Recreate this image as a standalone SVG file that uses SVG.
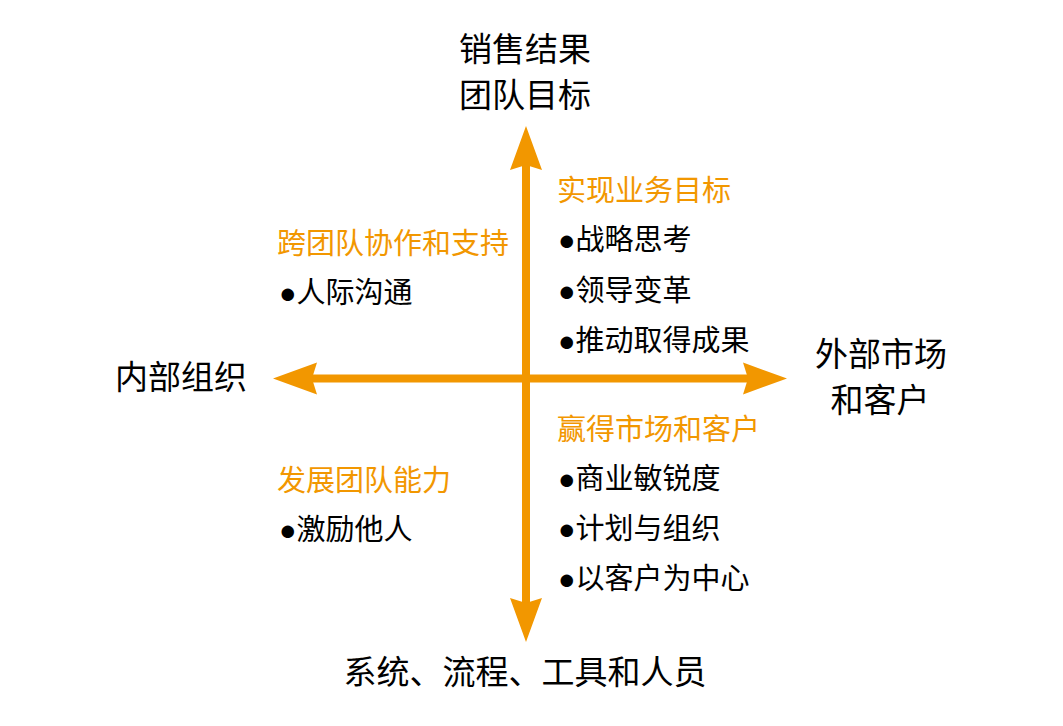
<svg xmlns="http://www.w3.org/2000/svg" width="1063" height="726" viewBox="0 0 1063 726">
  <style>
    .big { font-family: "Noto Sans CJK SC", "Noto Sans", sans-serif; font-size: 33px; fill: #000; }
    .head { font-family: "Noto Sans CJK SC", "Noto Sans", sans-serif; font-size: 29px; fill: #F29700; }
    .item { font-family: "Noto Sans CJK SC", "Noto Sans", sans-serif; font-size: 29px; fill: #000; }
    .dot { font-family: "Liberation Sans", "DejaVu Sans", sans-serif; }
    .axis { stroke: #F29700; stroke-width: 8; fill: none; marker-start: url(#ah); marker-end: url(#ah); }
  </style>
  <defs>
    <marker id="ah" markerUnits="userSpaceOnUse" markerWidth="50" markerHeight="40" refX="5" refY="16" orient="auto-start-reverse" overflow="visible">
      <path d="M0,0 L44,16 L0,32 L5,16 Z" fill="#F29700"/>
    </marker>
  </defs>
  <rect width="1063" height="726" fill="#fff"/>
  <g id="connectors">
    <line class="axis" x1="526" y1="603" x2="526" y2="165"/>
    <line class="axis" x1="748" y1="378.5" x2="312" y2="378.5"/>
  </g>
  <g id="top-label">
    <text class="big" x="525" y="61" text-anchor="middle">销售结果</text>
    <text class="big" x="525" y="107" text-anchor="middle">团队目标</text>
  </g>
  <g id="left-label">
    <text class="big" x="115" y="389">内部组织</text>
  </g>
  <g id="right-label">
    <text class="big" x="881" y="366" text-anchor="middle">外部市场</text>
    <text class="big" x="880" y="412" text-anchor="middle">和客户</text>
  </g>
  <g id="bottom-label">
    <text class="big" x="525" y="684" text-anchor="middle">系统、流程、工具和人员</text>
  </g>
  <g id="q-top-right">
    <text class="head" x="557" y="201">实现业务目标</text>
    <text class="item" x="558" y="250"><tspan class="dot">●</tspan>战略思考</text>
    <text class="item" x="558" y="301"><tspan class="dot">●</tspan>领导变革</text>
    <text class="item" x="558" y="351"><tspan class="dot">●</tspan>推动取得成果</text>
  </g>
  <g id="q-top-left">
    <text class="head" x="277" y="254">跨团队协作和支持</text>
    <text class="item" x="279" y="303"><tspan class="dot">●</tspan>人际沟通</text>
  </g>
  <g id="q-bottom-left">
    <text class="head" x="277" y="491">发展团队能力</text>
    <text class="item" x="279" y="540"><tspan class="dot">●</tspan>激励他人</text>
  </g>
  <g id="q-bottom-right">
    <text class="head" x="557" y="440">赢得市场和客户</text>
    <text class="item" x="558" y="489"><tspan class="dot">●</tspan>商业敏锐度</text>
    <text class="item" x="558" y="539"><tspan class="dot">●</tspan>计划与组织</text>
    <text class="item" x="558" y="589"><tspan class="dot">●</tspan>以客户为中心</text>
  </g>
</svg>
